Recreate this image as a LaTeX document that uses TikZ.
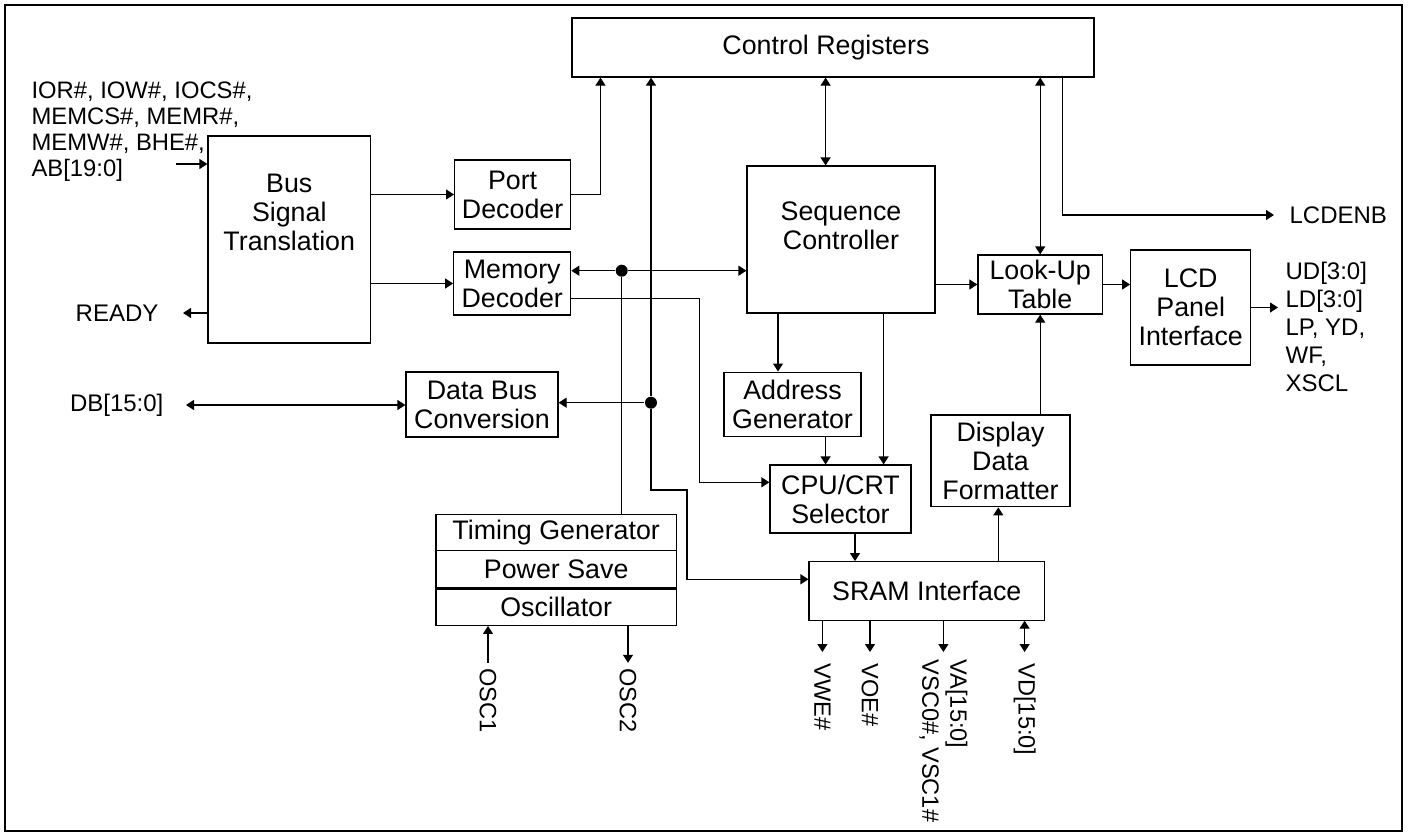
\documentclass[tikz,border=0pt]{standalone}
\usepackage{fontspec}
\setmainfont{Liberation Sans}
\usetikzlibrary{arrows.meta}

\tikzset{
  blk/.style={draw, line width=0.6pt, inner sep=1pt, align=center},
  arr/.style={-{Triangle[length=4pt,width=5pt]}},
  biarr/.style={{Triangle[length=4pt,width=5pt]}-{Triangle[length=4pt,width=5pt]}},
  sig/.style={inner sep=0pt, align=left, font=\fontsize{12}{14}\selectfont},
  vsig/.style={sig, rotate=-90, anchor=west, font=\fontsize{11.8}{14}\selectfont},
  dot/.style={circle, fill, inner sep=0pt, minimum size=6pt},
}

\begin{document}
\begin{tikzpicture}[x=0.5pt, y=-0.5pt, line width=0.6pt, font=\fontsize{13.4}{14.5}\selectfont]
  \useasboundingbox (0,0) rectangle (1409,835);
  \draw[line width=1.2pt] (5,5) rectangle (1402,831);

  % blocks
  \node[blk, minimum width=261pt, minimum height=29.5pt] (ctrl) at (833,47.5) {Control Registers\hspace*{7pt}};
  \node[blk, minimum width=81.25pt, minimum height=103.5pt] (bst) at (289.25,239.5) {};
  \node[align=center, inner sep=0pt] (bsttxt) at (289.25,212) {Bus\\Signal\\Translation};
  \node[blk, minimum width=58pt, minimum height=34.5pt] (port) at (512.6,194.5) {Port\\Decoder};
  \node[blk, minimum width=58.5pt, minimum height=31.5pt] (memdec) at (512.2,283.5) {Memory\\Decoder};
  \node[blk, minimum width=76pt, minimum height=32.5pt] (dbc) at (482,404.5) {Data Bus\\Conversion};
  \node[blk, minimum width=94pt, minimum height=73.5pt] (seq) at (841,239.5) {};
  \node[align=center, inner sep=0pt] (seqtxt) at (841,226) {Sequence\\Controller};
  \node[blk, minimum width=62.25pt, minimum height=29.5pt] (lut) at (1040.2,284.5) {Look-Up\\Table};
  \node[blk, minimum width=60pt, minimum height=57.5pt] (lcd) at (1190.7,307.5) {LCD\\Panel\\Interface};
  \node[blk, minimum width=68.5pt, minimum height=32.3pt] (addr) at (792.5,404.4) {Address\\Generator};
  \node[blk, minimum width=69.5pt, minimum height=45.9pt] (ddf) at (1000.5,460.9) {Display\\Data\\Formatter};
  \node[blk, minimum width=70.5pt, minimum height=34pt] (cpu) at (840.5,499) {CPU/CRT\\Selector};
  \node[blk, minimum width=117.75pt, minimum height=29.2pt] (sram) at (926.8,590.9) {SRAM Interface};
  \node[blk, minimum width=120.2pt, minimum height=18pt] (tg) at (556.2,532.3) {Timing Generator};
  \node[blk, minimum width=120.2pt, minimum height=18.85pt] (ps) at (556.2,569.2) {Power Save};
  \node[blk, minimum width=120.2pt, minimum height=18.65pt] (osc) at (556.2,606.7) {Oscillator};
  \draw[line width=1.2pt] (ps.south west) -- (ps.south east);

  % host side signals
  \node[sig, anchor=north west, font=\fontsize{11.9}{13}\selectfont] (buslbl) at (31,81) {IOR\#, IOW\#, IOCS\#,\\MEMCS\#, MEMR\#,\\MEMW\#, BHE\#,\\AB[19:0]};
  \coordinate (busin) at (176,164);
  \draw[arr] (busin) -- (bst.west |- busin);
  \node[sig, anchor=east] (ready) at (159,313) {READY};
  \draw[arr] (bst.west |- ready) -- ([xshift=12pt]ready.east);
  \node[sig, anchor=east] (db) at (164,405) {DB[15:0]};
  \draw[biarr] ([xshift=11pt]db.east) -- (dbc.west |- db.east);

  \draw[arr] (bst.east |- port.west) -- (port.west);
  \draw[arr] (bst.east |- memdec.west) -- (memdec.west);
  \draw[arr] (port.east) -| (600.5,0 |- ctrl.south);

  % junctions
  \node[dot] (j1) at (621.7,270.7) {};
  \node[dot] (j2) at (651,402.7) {};
  \draw[arr] (j1) -- (memdec.east |- j1);
  \draw[arr] (j1) -- (seq.west |- j1);
  \draw (j1) -- (j1 |- tg.north);
  \draw[arr] (j2) -- (dbc.east |- j2);
  \draw[arr] (j2) -- (j2 |- ctrl.south);
  \draw[arr] (j2) -- (651,490) -| (687,579.3) -- (sram.west |- 0,579.3);
  \draw[arr] ([yshift=-7.4pt]memdec.east) -| (699.3,482.3) -- (cpu.west |- 0,482.3);

  % controller side
  \draw[biarr] (825.6,0 |- ctrl.south) -- (825.6,0 |- seq.north);
  \draw[biarr] (lut.north |- ctrl.south) -- (lut.north);
  \node[sig, anchor=west] (lcdenb) at (1289,215) {LCDENB};
  \draw[arr] (1062.6,0 |- ctrl.south) |- ([xshift=-7.5pt]lcdenb.west);
  \draw[arr] (seq.east |- lut.west) -- (lut.west);
  \draw[arr] (lut.east) -- (lcd.west |- lut.east);
  \node[sig, anchor=north west] (lcdout) at (1285,262) {UD[3:0]\\LD[3:0]\\LP, YD,\\WF,\\XSCL};
  \coordinate (lcdo) at (1278,307);
  \draw[arr] (lcd.east) -- (lcdo |- lcd.east);
  \draw[arr] (778,0 |- seq.south) -- (778,0 |- addr.north);
  \draw[arr] (883.6,0 |- seq.south) -- (883.6,0 |- cpu.north);
  \draw[arr] (825.6,0 |- addr.south) -- (825.6,0 |- cpu.north);
  \draw[arr] (855,0 |- cpu.south) -- (855,0 |- sram.north);
  \draw[arr] (998.3,0 |- sram.north) -- (998.3,0 |- ddf.south);
  \draw[arr] (lut.south |- ddf.north) -- (lut.south);

  % SRAM and clock pins
  \node[vsig] (vwe) at (822.4,663) {VWE\#};
  \node[vsig] (voe) at (870,663) {VOE\#};
  \node[vsig] (va) at (943.4,659) {VA[15:0]\\VSC0\#, VSC1\#};
  \node[vsig] (vd) at (1024.6,663) {VD[15:0]};
  \draw[arr] (vwe.west |- sram.south) -- ([yshift=5.5pt]vwe.west);
  \draw[arr] (voe.west |- sram.south) -- ([yshift=5.5pt]voe.west);
  \draw[arr] (va.west |- sram.south) -- ([yshift=3.5pt]va.west);
  \draw[biarr] (vd.west |- sram.south) -- ([yshift=5.5pt]vd.west);
  \node[vsig] (osc1) at (488,668) {OSC1};
  \node[vsig] (osc2) at (628,668) {OSC2};
  \draw[arr] ([yshift=2.6pt]osc1.west) -- (osc1.west |- osc.south);
  \draw[arr] (osc2.west |- osc.south) -- ([yshift=2.6pt]osc2.west);
\end{tikzpicture}
\end{document}
